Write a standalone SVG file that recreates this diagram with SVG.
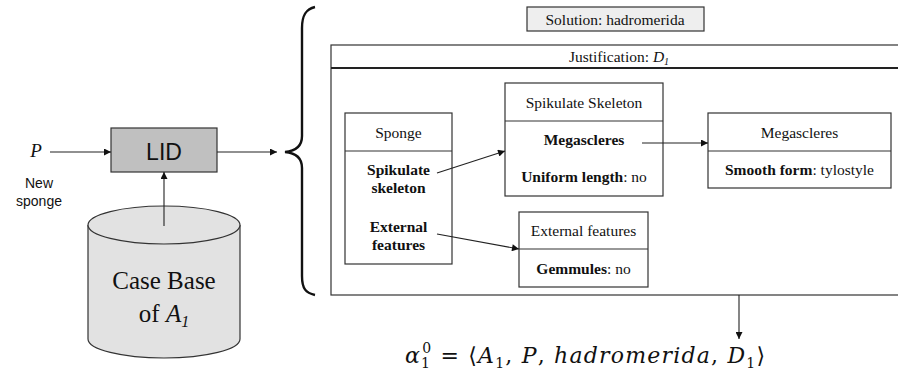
<svg xmlns="http://www.w3.org/2000/svg" width="898" height="377" viewBox="0 0 898 377">
<style>
  .box { fill: #ffffff; stroke: #333333; stroke-width: 1.2; }
  .sep { stroke: #333333; stroke-width: 1.2; }
  .lbl { font-family: "Liberation Serif", serif; font-size: 15.5px; fill: #111111; text-anchor: middle; }
  .bold { font-weight: bold; }
  .sans { font-family: "Liberation Sans", sans-serif; fill: #111111; text-anchor: middle; }
  .conn { stroke: #222222; stroke-width: 1.1; fill: none; }
  .math { font-family: "DejaVu Serif", serif; font-size: 22px; fill: #111111; letter-spacing: 1.2px; }
</style>
<defs>
  <marker id="ah" viewBox="0 0 10 10" refX="10" refY="5" markerWidth="8" markerHeight="7" markerUnits="userSpaceOnUse" orient="auto">
    <path d="M0,0 L10,5 L0,10 z" fill="#111111"/>
  </marker>
</defs>

<g id="input-P">
  <text x="36" y="157" font-family="Liberation Serif, serif" font-size="19" font-style="italic" fill="#111111" text-anchor="middle">P</text>
  <text class="sans" x="39" y="188" font-size="14">New</text>
  <text class="sans" x="39" y="206" font-size="14">sponge</text>
</g>

<g id="lid">
  <rect x="111" y="128" width="106" height="44" fill="#c0c0c0" stroke="#333333" stroke-width="1.2"/>
  <text class="sans" x="164" y="160" font-size="23">LID</text>
</g>

<g id="case-base" font-family="Liberation Serif, serif">
  <path d="M88,225 L88,339 A76,19 0 0 0 240,339 L240,225" fill="#e2e2e2" stroke="#333333" stroke-width="1.2"/>
  <ellipse cx="164" cy="225" rx="76" ry="19" fill="#e2e2e2" stroke="#333333" stroke-width="1.2"/>
  <text class="lbl" x="164" y="289" style="font-size:25px">Case Base</text>
  <text class="lbl" x="164" y="322" style="font-size:25px">of <tspan font-style="italic">A</tspan><tspan font-style="italic" font-size="16" dy="5">1</tspan></text>
</g>

<g id="brace">
  <path d="M315,7 C306,9 302,15 302,28 L302,136 C302,146 296,151 285,152 C296,153 302,158 302,168 L302,276 C302,289 306,293 315,295" fill="none" stroke="#111111" stroke-width="2.4"/>
</g>

<g id="solution" font-family="Liberation Serif, serif">
  <rect x="527" y="7" width="177" height="24" fill="#eeeeee" stroke="#333333" stroke-width="1.2"/>
  <text class="lbl" x="615" y="25">Solution: hadromerida</text>
</g>

<g id="justification" font-family="Liberation Serif, serif">
  <rect x="331" y="45" width="580" height="250" fill="none" stroke="#333333" stroke-width="1.2"/>
  <line x1="331" y1="68" x2="898" y2="68" stroke="#222222" stroke-width="1.8"/>
  <text class="lbl" x="619" y="62">Justification: <tspan font-style="italic">D</tspan><tspan font-style="italic" font-size="10" dy="3">1</tspan></text>
</g>

<g id="sponge" font-family="Liberation Serif, serif">
  <rect class="box" x="345" y="113" width="107" height="151"/>
  <line class="sep" x1="345" y1="151" x2="452" y2="151"/>
  <text class="lbl" x="398.5" y="138">Sponge</text>
  <text class="lbl bold" x="398.5" y="175">Spikulate</text>
  <text class="lbl bold" x="398.5" y="193">skeleton</text>
  <text class="lbl bold" x="398.5" y="232">External</text>
  <text class="lbl bold" x="398.5" y="250">features</text>
</g>

<g id="spikulate-skeleton" font-family="Liberation Serif, serif">
  <rect class="box" x="505" y="83" width="158" height="113"/>
  <line class="sep" x1="505" y1="121" x2="663" y2="121"/>
  <text class="lbl" x="584" y="108">Spikulate Skeleton</text>
  <text class="lbl bold" x="584" y="145">Megascleres</text>
  <text class="lbl" x="584" y="182"><tspan font-weight="bold">Uniform length</tspan>: no</text>
</g>

<g id="external-features" font-family="Liberation Serif, serif">
  <rect class="box" x="519" y="212" width="129" height="75"/>
  <line class="sep" x1="519" y1="249" x2="648" y2="249"/>
  <text class="lbl" x="583.5" y="236">External features</text>
  <text class="lbl" x="583.5" y="274"><tspan font-weight="bold">Gemmules</tspan>: no</text>
</g>

<g id="megascleres" font-family="Liberation Serif, serif">
  <rect class="box" x="708" y="113" width="183" height="75"/>
  <line class="sep" x1="708" y1="151" x2="891" y2="151"/>
  <text class="lbl" x="799.5" y="138">Megascleres</text>
  <text class="lbl" x="799.5" y="175"><tspan font-weight="bold">Smooth form</tspan>: tylostyle</text>
</g>

<g id="result">
  <text class="math" x="405" y="363"><tspan font-style="italic">α</tspan><tspan font-size="14" dy="5">1</tspan><tspan font-size="14" dx="-9" dy="-15">0</tspan><tspan dy="10"> = ⟨</tspan><tspan font-style="italic">A</tspan><tspan font-size="14" dy="5">1</tspan><tspan dy="-5">, </tspan><tspan font-style="italic">P</tspan><tspan>, </tspan><tspan font-style="italic">hadromerida</tspan><tspan>, </tspan><tspan font-style="italic">D</tspan><tspan font-size="14" dy="5">1</tspan><tspan dy="-5">⟩</tspan></text>
</g>

<g id="connectors">
  <line class="conn" x1="50" y1="152" x2="111" y2="152" marker-end="url(#ah)"/>
  <line class="conn" x1="217" y1="152" x2="277" y2="152" marker-end="url(#ah)"/>
  <line class="conn" x1="164" y1="226" x2="164" y2="172" marker-end="url(#ah)"/>
  <line class="conn" x1="437" y1="173" x2="505" y2="151" marker-end="url(#ah)"/>
  <line class="conn" x1="437" y1="234" x2="519" y2="249" marker-end="url(#ah)"/>
  <line class="conn" x1="642" y1="143" x2="708" y2="143" marker-end="url(#ah)"/>
  <line class="conn" x1="739" y1="295" x2="739" y2="339" marker-end="url(#ah)" stroke="#555555" stroke-width="1.6"/>
</g>
</svg>
